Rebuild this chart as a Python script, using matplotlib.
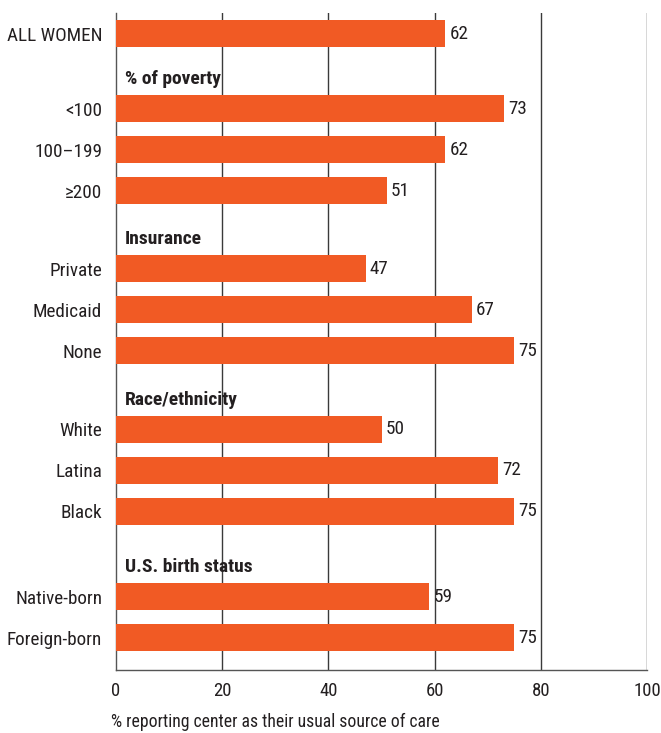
import matplotlib
matplotlib.use('Agg')
import matplotlib.pyplot as plt

plt.rcParams['font.family'] = ['Roboto Condensed', 'DejaVu Sans']

top_label = 'ALL WOMEN'
top_value = 62

groups = ['% of poverty', 'Insurance', 'Race/ethnicity', 'U.S. birth status']
group_labels = [
    ['<100', '100\u2013199', '\u2265200'],
    ['Private', 'Medicaid', 'None'],
    ['White', 'Latina', 'Black'],
    ['Native-born', 'Foreign-born'],
]
group_values = [
    [73, 62, 51],
    [47, 67, 75],
    [50, 72, 75],
    [59, 75],
]

xticks = [0, 20, 40, 60, 80, 100]
xlabel = '% reporting center as their usual source of care'
bar_color = '#F15A24'
text_color = '#231f20'
fs = 13.75

fig = plt.figure(figsize=(6.61, 7.33), dpi=100)
ax = fig.add_axes([116/661, 1 - 670/733, 531/661, 657/733])

# layout rows top to bottom
labels = [top_label]
values = [top_value]
ypos = [0.0]
headers = []
y = 0.0
header_gaps = [1.1, 1.19, 1.19, 1.36]
for g, gl, gv, hg in zip(groups, group_labels, group_values, header_gaps):
    y += hg
    headers.append((g, y))
    y += 0.72
    for i, (lab, v) in enumerate(zip(gl, gv)):
        if i > 0:
            y += 1.0
        labels.append(lab)
        values.append(v)
        ypos.append(y)

ax.barh(ypos, values, height=0.66, color=bar_color, zorder=3)
for yy, v in zip(ypos, values):
    ax.text(v + 0.8, yy, str(v), va='center', ha='left', fontsize=fs, color=text_color, zorder=4)
for g, yy in headers:
    ax.text(1.7, yy, g, va='center', ha='left', fontsize=14, fontweight='bold', color=text_color)

ax.set_yticks(ypos)
ax.set_yticklabels(labels, fontsize=fs, color=text_color)
ax.set_ylim(15.51, -0.51)
ax.set_xlim(0, 100)
ax.set_xticks(xticks)
ax.set_xticklabels([str(t) for t in xticks], fontsize=13.5, color=text_color)
ax.tick_params(length=0, pad=9)
ax.tick_params(axis='y', pad=10)

for t in xticks[1:]:
    ax.axvline(t, color='#3a3a3a', lw=1.0, zorder=1)
for s in ['top', 'right']:
    ax.spines[s].set_visible(False)
ax.spines['left'].set_color('#555555')
ax.spines['bottom'].set_color('#555555')
ax.spines['left'].set_linewidth(1.0)
ax.spines['bottom'].set_linewidth(1.0)

fig.text(111/661, 1 - 722/733, xlabel, ha='left', va='center', fontsize=12.7, color=text_color)

fig.savefig('out.png', dpi=100)
